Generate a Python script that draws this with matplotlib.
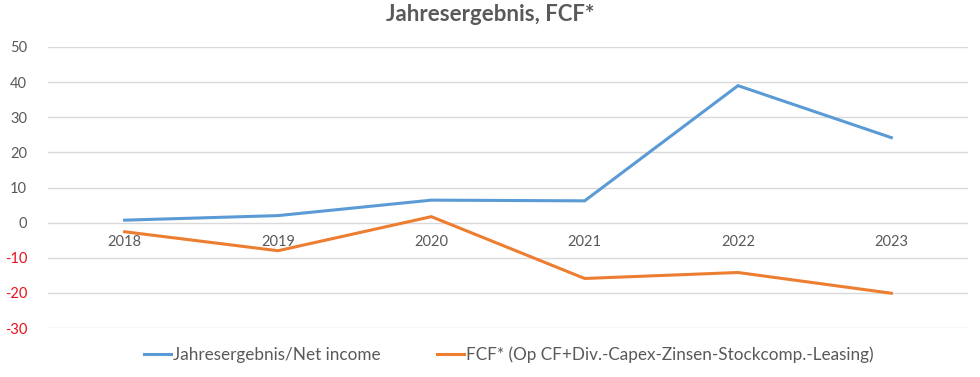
import matplotlib.pyplot as plt

years = ["2018", "2019", "2020", "2021", "2022", "2023"]
net_income = [0.7, 2.0, 6.4, 6.2, 39.0, 24.2]
fcf = [-2.6, -8.0, 1.7, -15.9, -14.2, -20.1]
label_ni = "Jahresergebnis/Net income"
label_fcf = "FCF* (Op CF+Div.-Capex-Zinsen-Stockcomp.-Leasing)"
title = "Jahresergebnis, FCF*"
y_ticks = [50, 40, 30, 20, 10, 0, -10, -20, -30]

plt.rcParams['font.family'] = ['Lato', 'DejaVu Sans']

fig = plt.figure(figsize=(9.8, 3.77), dpi=100)
ax = fig.add_axes([48 / 980, 49 / 377, 920 / 980, 281 / 377])

x = list(range(len(years)))
ax.plot(x, net_income, color="#5B9BD5", lw=2.2, label=label_ni, solid_joinstyle="miter")
ax.plot(x, fcf, color="#ED7D31", lw=2.2, label=label_fcf, solid_joinstyle="miter")

ax.set_xlim(-0.5, len(years) - 0.5)
ax.set_ylim(-30, 50)
ax.set_yticks(y_ticks)
ax.set_yticklabels([str(v) for v in y_ticks])
for lbl, v in zip(ax.get_yticklabels(), y_ticks):
    lbl.set_color("#E8101A" if v < 0 else "#595959")
ax.tick_params(axis="y", length=0, labelsize=10.5, pad=15)

ax.set_xticks(x)
ax.set_xticklabels(years)
ax.spines["bottom"].set_position(("data", 0))
ax.tick_params(axis="x", length=0, labelsize=10.5, colors="#595959", pad=9)
for s in ax.spines.values():
    s.set_visible(False)

ax.yaxis.grid(True, color="#D9D9D9", lw=1)
ax.set_axisbelow(True)

fig.suptitle(title, x=0.5, y=0.99, fontsize=16, fontweight="bold", color="#595959")

fig.legend(loc="center", bbox_to_anchor=(0.519, 0.06), ncol=2, frameon=False,
           fontsize=12.3, labelcolor="#595959", handlelength=1.6, handletextpad=0.1,
           columnspacing=3.3)

fig.savefig("out.png", dpi=100)
